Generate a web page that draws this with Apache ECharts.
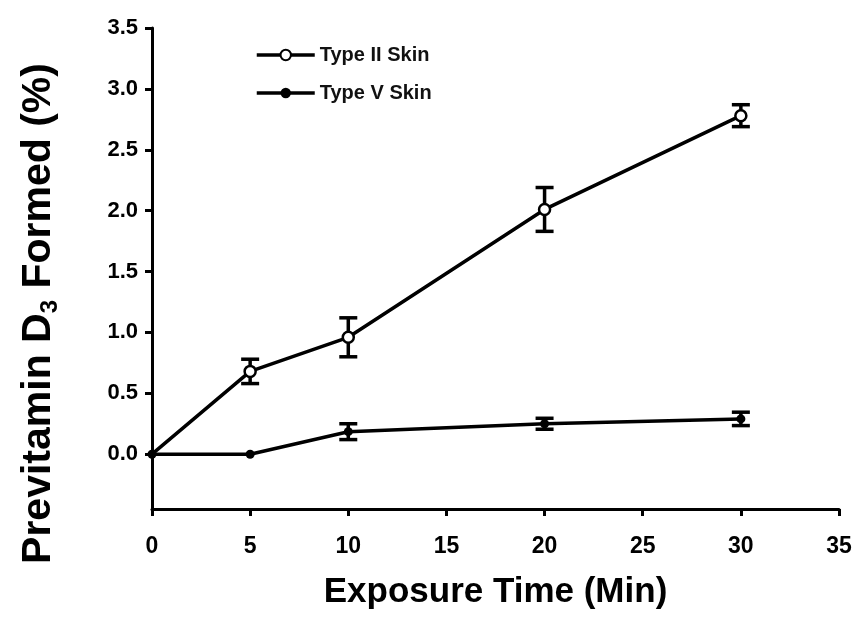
<!DOCTYPE html>
<html><head><meta charset="utf-8">
<script src="https://cdn.jsdelivr.net/npm/echarts@6/dist/echarts.min.js"></script>
<style>html,body{margin:0;padding:0;background:#fff}#c{width:858px;height:624px}</style>
</head><body><div id="c"></div>
<script>
const times = [0, 5, 10, 20, 30];
const typeII = [0, 0.68, 0.96, 2.01, 2.78];
const typeIIErr = [0, 0.10, 0.16, 0.18, 0.09];
const typeV = [0, 0, 0.185, 0.25, 0.29];
const typeVErr = [0, 0, 0.065, 0.045, 0.055];
const yTicks = [0, 0.5, 1.0, 1.5, 2.0, 2.5, 3.0, 3.5];
const xTicks = [0, 5, 10, 15, 20, 25, 30, 35];

const font = 'Liberation Sans, Arial, sans-serif';
function pts(vals){ return times.map((t,i)=>[t, vals[i]]); }
function errData(vals, errs){ return times.map((t,i)=>[t, vals[i]-errs[i], vals[i]+errs[i]]).filter((d,i)=>errs[i]>0); }
function errRender(params, api){
  const x = api.value(0);
  const lo = api.coord([x, api.value(1)]);
  const hi = api.coord([x, api.value(2)]);
  const w = 9;
  const st = {stroke:'#000', lineWidth:3.5};
  return {type:'group', children:[
    {type:'line', shape:{x1:lo[0],y1:lo[1],x2:hi[0],y2:hi[1]}, style:st},
    {type:'line', shape:{x1:lo[0]-w,y1:lo[1],x2:lo[0]+w,y2:lo[1]}, style:st},
    {type:'line', shape:{x1:hi[0]-w,y1:hi[1],x2:hi[0]+w,y2:hi[1]}, style:st}
  ]};
}
const chart = echarts.init(document.getElementById('c'));
const IIdata = pts(typeII).map((d,i)=> i===0 ? {value:d, symbolSize:0} : d);
chart.setOption({
  backgroundColor:'#fff',
  animation:false,
  grid:{left:152, right:19, top:28, bottom:115, containLabel:false},
  legend:{
    data:['Type II Skin','Type V Skin'], orient:'vertical', left:250, top:40,
    itemWidth:58, itemHeight:13, itemGap:18,
    lineStyle:{width:3.5, color:'#000'},
    textStyle:{fontFamily:font, fontWeight:'bold', fontSize:20, color:'#111'}
  },
  xAxis:{
    type:'value', min:0, max:35, interval:5,
    axisLine:{onZero:false, lineStyle:{color:'#000', width:3}},
    axisTick:{show:true, length:7, lineStyle:{color:'#000', width:3}},
    axisLabel:{margin:26, fontFamily:font, fontWeight:'bold', fontSize:23, color:'#000'},
    splitLine:{show:false},
    name:'Exposure Time (Min)', nameLocation:'middle', nameGap:66,
    nameTextStyle:{fontFamily:font, fontWeight:'bold', fontSize:35, color:'#000'}
  },
  yAxis:{
    type:'value', min:-0.45, max:3.5,
    axisLine:{onZero:false, lineStyle:{color:'#000', width:3}},
    axisTick:{show:true, length:7, lineStyle:{color:'#000', width:3}, customValues:yTicks},
    axisLabel:{margin:14, fontFamily:font, fontWeight:'bold', fontSize:22, color:'#000',
      customValues:yTicks, formatter:v=>v.toFixed(1)},
    splitLine:{show:false},
    name:'{a|Previtamin D}{s|3}{a| Formed (%)}', nameLocation:'middle', nameGap:90, nameRotate:90,
    nameTextStyle:{padding:[0,90,0,0],
      rich:{a:{fontFamily:font, fontWeight:'bold', fontSize:41, color:'#000', lineHeight:46},
            s:{fontFamily:font, fontWeight:'bold', fontSize:24, color:'#000', verticalAlign:'bottom', lineHeight:46, padding:[16,0,0,0]}}}
  },
  series:[
    {name:'Type II Skin', type:'line', data:IIdata, symbol:'circle', symbolSize:11,
      lineStyle:{color:'#000', width:3.5}, itemStyle:{color:'#fff', borderColor:'#000', borderWidth:2.5}, z:3},
    {name:'Type V Skin', type:'line', data:pts(typeV), symbol:'circle', symbolSize:9,
      lineStyle:{color:'#000', width:3.5}, itemStyle:{color:'#000', borderColor:'#000', borderWidth:0}, z:3},
    {name:'errII', type:'custom', data:errData(typeII,typeIIErr), renderItem:errRender, z:2},
    {name:'errV', type:'custom', data:errData(typeV,typeVErr), renderItem:errRender, z:2}
  ]
});
</script></body></html>
